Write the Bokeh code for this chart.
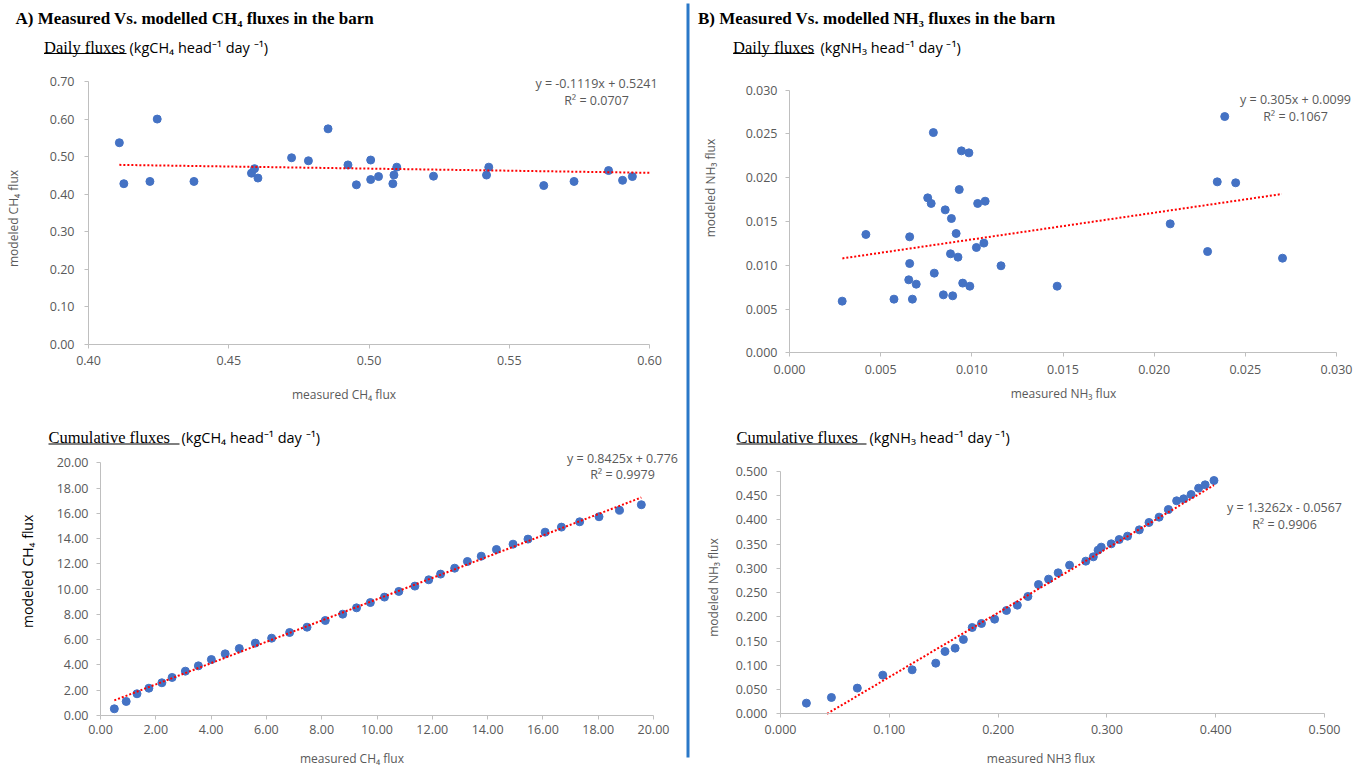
import math
from bokeh.plotting import figure
from bokeh.models import (Range1d, FixedTicker, NumeralTickFormatter, Label, BoxAnnotation,
                          LinearAxis)
from bokeh.embed import file_html
from bokeh.resources import INLINE

# ---------------- data ----------------
# A) CH4 daily fluxes
ch4_daily_measured = [0.411, 0.4126, 0.4219, 0.4245, 0.4376, 0.4581, 0.4592, 0.4604, 0.4724,
                      0.4784, 0.4854, 0.4925, 0.4955, 0.5006, 0.5006, 0.5034, 0.5085, 0.5089,
                      0.5099, 0.5230, 0.5419, 0.5427, 0.5623, 0.5731, 0.5854, 0.5904, 0.5939]
ch4_daily_modeled = [0.537, 0.428, 0.434, 0.600, 0.434, 0.456, 0.468, 0.443, 0.497,
                     0.489, 0.574, 0.478, 0.425, 0.491, 0.439, 0.447, 0.428, 0.451,
                     0.472, 0.448, 0.451, 0.472, 0.423, 0.434, 0.463, 0.437, 0.447]
ch4_daily_fit = [-0.1119, 0.5241]
ch4_daily_fit_x = [0.411, 0.600]
ch4_daily_eq = ["y = -0.1119x + 0.5241", "R² = 0.0707"]

# B) NH3 daily fluxes
nh3_daily_measured = [0.00289, 0.00419, 0.00573, 0.00654, 0.00659, 0.00659, 0.00674, 0.00695, 0.00758,
                      0.00777, 0.00789, 0.00794, 0.00844, 0.00854, 0.00883, 0.00888, 0.00895, 0.00914,
                      0.00924, 0.00931, 0.00943, 0.00950, 0.00984, 0.00989, 0.01025, 0.01032, 0.01066,
                      0.01073, 0.01160, 0.01468, 0.02088, 0.02293, 0.02346, 0.02387, 0.02447, 0.02704]
nh3_daily_modeled = [0.00590, 0.01352, 0.00613, 0.00834, 0.01020, 0.01325, 0.00613, 0.00784, 0.01770,
                     0.01706, 0.02516, 0.00910, 0.00662, 0.01633, 0.01131, 0.01534, 0.00651, 0.01363,
                     0.01093, 0.01865, 0.02307, 0.00796, 0.02284, 0.00761, 0.01203, 0.01706, 0.01253,
                     0.01732, 0.00994, 0.00761, 0.01473, 0.01157, 0.01953, 0.02699, 0.01942, 0.01081]
nh3_daily_fit = [0.305, 0.0099]
nh3_daily_fit_x = [0.0029, 0.0270]
nh3_daily_eq = ["y = 0.305x + 0.0099", "R² = 0.1067"]

# A) CH4 cumulative fluxes
ch4_cum_measured = [0.50, 0.93, 1.32, 1.75, 2.22, 2.59, 3.07, 3.54, 4.01, 4.51, 5.02, 5.60,
                    6.19, 6.84, 7.47, 8.13, 8.76, 9.26, 9.76, 10.27, 10.79, 11.37, 11.87, 12.30,
                    12.81, 13.27, 13.77, 14.32, 14.92, 15.46, 16.08, 16.67, 17.33, 18.03, 18.77, 19.56]
ch4_cum_modeled = [0.53, 1.11, 1.72, 2.16, 2.59, 3.01, 3.51, 3.93, 4.43, 4.88, 5.30, 5.73,
                   6.12, 6.57, 6.99, 7.52, 8.02, 8.52, 8.94, 9.37, 9.82, 10.24, 10.74, 11.19,
                   11.66, 12.19, 12.61, 13.14, 13.56, 13.96, 14.51, 14.91, 15.33, 15.73, 16.25, 16.68]
ch4_cum_fit = [0.8425, 0.776]
ch4_cum_fit_x = [0.50, 19.56]
ch4_cum_eq = ["y = 0.8425x + 0.776", "R² = 0.9979"]

# B) NH3 cumulative fluxes
nh3_cum_measured = [0.0238, 0.0468, 0.0706, 0.0940, 0.1210, 0.1427, 0.1512, 0.1605, 0.1681,
                    0.1762, 0.1847, 0.1968, 0.2077, 0.2177, 0.2274, 0.2371, 0.2464, 0.2552,
                    0.2657, 0.2806, 0.2875, 0.2919, 0.2948, 0.3040, 0.3113, 0.3190, 0.3298,
                    0.3387, 0.3480, 0.3565, 0.3641, 0.3706, 0.3774, 0.3843, 0.3903, 0.3984]
nh3_cum_modeled = [0.0220, 0.0337, 0.0530, 0.0798, 0.0908, 0.1045, 0.1286, 0.1355, 0.1534,
                   0.1781, 0.1864, 0.1953, 0.2132, 0.2242, 0.2421, 0.2668, 0.2779, 0.2909,
                   0.3067, 0.3150, 0.3239, 0.3377, 0.3439, 0.3508, 0.3597, 0.3666, 0.3796,
                   0.3948, 0.4058, 0.4216, 0.4395, 0.4436, 0.4525, 0.4656, 0.4725, 0.4814]
nh3_cum_fit = [1.3262, -0.0567]
nh3_cum_fit_x = [0.0428, 0.3984]
nh3_cum_eq = ["y = 1.3262x - 0.0567", "R² = 0.9906"]

# tick values
ch4_daily_xticks = [0.40, 0.45, 0.50, 0.55, 0.60]
ch4_daily_yticks = [0.0, 0.1, 0.2, 0.3, 0.4, 0.5, 0.6, 0.7]
nh3_daily_xticks = [0.0, 0.005, 0.010, 0.015, 0.020, 0.025, 0.030]
nh3_daily_yticks = [0.0, 0.005, 0.010, 0.015, 0.020, 0.025, 0.030]
ch4_cum_xticks = [0, 2, 4, 6, 8, 10, 12, 14, 16, 18, 20]
ch4_cum_yticks = [0, 2, 4, 6, 8, 10, 12, 14, 16, 18, 20]
nh3_cum_xticks = [0.0, 0.1, 0.2, 0.3, 0.4, 0.5]
nh3_cum_yticks = [0.0, 0.05, 0.10, 0.15, 0.20, 0.25, 0.30, 0.35, 0.40, 0.45, 0.50]

# ---------------- style / layout ----------------
W, H = 1368, 770
DOT = "#4472C4"
TREND = "#FF0000"
AXIS = "#BFBFBF"
GREY = "#595959"
SEP = "#2A78C8"
SANS = "Open Sans"
SERIF = "Liberation Serif"

p = figure(width=W, height=H, x_range=Range1d(0, W), y_range=Range1d(H, 0),
           x_axis_type=None, y_axis_type=None, toolbar_location=None,
           output_backend="svg", min_border=0,
           background_fill_color="white", border_fill_color="white")
p.outline_line_color = None

xr, yr = {}, {}


def add_panel(name, xdat, ydat, xmap, ymap, xticks, yticks, xfmt, yfmt,
              fit, fit_x, xstand, ystand):
    # xmap/ymap: (value0, pixel0, value1, pixel1) -- where the axis ends sit on the page
    sx = (xmap[2] - xmap[0]) / (xmap[3] - xmap[1])
    xr[name + "x"] = Range1d(xmap[0] - xmap[1] * sx, xmap[0] + (W - xmap[1]) * sx)
    sy = (ymap[2] - ymap[0]) / (ymap[3] - ymap[1])
    yr[name + "y"] = Range1d(ymap[0] + (H - ymap[1]) * sy, ymap[0] - ymap[1] * sy)
    xn, yn = name + "x", name + "y"
    x0, x1 = min(xticks), max(xticks)
    y0, y1 = min(yticks), max(yticks)
    xa = LinearAxis(x_range_name=xn, y_range_name=yn, fixed_location=y0, bounds=(x0, x1),
                    ticker=FixedTicker(ticks=xticks), formatter=NumeralTickFormatter(format=xfmt))
    ya = LinearAxis(x_range_name=xn, y_range_name=yn, fixed_location=x0, bounds=(y0, y1),
                    ticker=FixedTicker(ticks=yticks), formatter=NumeralTickFormatter(format=yfmt))
    for ax, st in ((xa, xstand), (ya, ystand)):
        ax.axis_line_color = AXIS
        ax.major_tick_line_color = AXIS
        ax.major_tick_out = 4
        ax.major_tick_in = 0
        ax.minor_tick_line_color = None
        ax.major_label_text_font = SANS
        ax.major_label_text_font_size = "12.5px"
        ax.major_label_text_color = GREY
        ax.major_label_standoff = int(st)
    p.add_layout(xa, "below")
    p.add_layout(ya, "left")
    p.scatter(xdat, ydat, size=8, fill_color=DOT, line_color=DOT,
              x_range_name=xn, y_range_name=yn)
    fy = [fit[0] * v + fit[1] for v in fit_x]
    p.line(fit_x, fy, line_color=TREND, line_width=2, line_dash="2 2",
           x_range_name=xn, y_range_name=yn)


def text(x, y, t, font=SANS, size="12.5px", color=GREY, style="normal", align="left", angle=0.0):
    p.add_layout(Label(x=x, y=y, text=t, text_font=font, text_font_size=size,
                       text_color=color, text_font_style=style, text_align=align,
                       text_baseline="middle", angle=angle))


def underline(x0, x1, y):
    p.add_layout(BoxAnnotation(left=x0, right=x1, top=y, bottom=y + 1,
                               fill_color="black", fill_alpha=1.0, line_color=None))


add_panel("A1", ch4_daily_measured, ch4_daily_modeled, (0.40, 88, 0.60, 649), (0.70, 81, 0.0, 344),
          ch4_daily_xticks, ch4_daily_yticks, "0.00", "0.00", ch4_daily_fit, ch4_daily_fit_x, 7, 10)
add_panel("B1", nh3_daily_measured, nh3_daily_modeled, (0.0, 789, 0.030, 1336), (0.030, 89.7, 0.0, 352.3),
          nh3_daily_xticks, nh3_daily_yticks, "0.000", "0.000", nh3_daily_fit, nh3_daily_fit_x, 8, 8)
add_panel("A2", ch4_cum_measured, ch4_cum_modeled, (0.0, 100, 20.0, 653), (20.0, 462.3, 0.0, 715),
          ch4_cum_xticks, ch4_cum_yticks, "0.00", "0.00", ch4_cum_fit, ch4_cum_fit_x, 5, 8)
add_panel("B2", nh3_cum_measured, nh3_cum_modeled, (0.0, 780, 0.5, 1324), (0.5, 471, 0.0, 713.3),
          nh3_cum_xticks, nh3_cum_yticks, "0.000", "0.000", nh3_cum_fit, nh3_cum_fit_x, 7, 9)
p.extra_x_ranges = xr
p.extra_y_ranges = yr

# headings
text(15, 18.3, "A) Measured Vs. modelled CH₄ fluxes in the barn", SERIF, "17px", "black", "bold")
text(697.5, 18.3, "B) Measured Vs. modelled NH₃ fluxes in the barn", SERIF, "17px", "black", "bold")
text(43.5, 47, "Daily  fluxes", SERIF, "16.5px", "black")
underline(43.5, 126, 52.5)
text(129, 47, "(kgCH₄ head⁻¹ day ⁻¹)", SANS, "14.5px", "black")
text(732.6, 47, "Daily  fluxes", SERIF, "16.5px", "black")
underline(732.6, 813.8, 52.5)
text(820, 47, "(kgNH₃ head⁻¹ day ⁻¹)", SANS, "14.5px", "black")
text(48, 436.7, "Cumulative  fluxes", SERIF, "16.5px", "black")
underline(48, 179, 443)
text(181, 436.7, "(kgCH₄ head⁻¹ day ⁻¹)", SANS, "14.5px", "black")
text(736, 437, "Cumulative  fluxes", SERIF, "16.5px", "black")
underline(736, 866, 443)
text(869, 437, "(kgNH₃ head⁻¹ day ⁻¹)", SANS, "14.5px", "black")

# axis titles
text(343.5, 394, "measured CH₄ flux", size="12px", align="center")
text(13, 218, "modeled CH₄ flux", size="12px", align="center", angle=math.pi / 2)
text(1063, 393, "measured NH₃ flux", size="12px", align="center")
text(710, 187.5, "modeled NH₃ flux", size="12px", align="center", angle=math.pi / 2)
text(353, 758, "measured  CH₄ flux", size="12px", align="center")
text(27, 569, "modeled  CH₄ flux", size="14px", color="black", align="center", angle=math.pi / 2)
text(1042, 758, "measured  NH3 flux", size="12px", align="center")
text(713, 587, "modeled NH₃ flux", size="12px", align="center", angle=math.pi / 2)

# regression equations
text(596, 83.3, ch4_daily_eq[0], align="center")
text(596, 100, ch4_daily_eq[1], align="center")
text(1295, 99, nh3_daily_eq[0], align="center")
text(1295, 115.7, nh3_daily_eq[1], align="center")
text(622, 457.7, ch4_cum_eq[0], align="center")
text(622, 474, ch4_cum_eq[1], align="center")
text(1284, 506.7, nh3_cum_eq[0], align="center")
text(1284, 524, nh3_cum_eq[1], align="center")

# vertical separator between the two halves
p.add_layout(BoxAnnotation(left=686, right=689, top=3, bottom=757,
                           fill_color=SEP, fill_alpha=1.0, line_color=None))

with open("out.html", "w") as f:
    f.write(file_html(p, INLINE))
